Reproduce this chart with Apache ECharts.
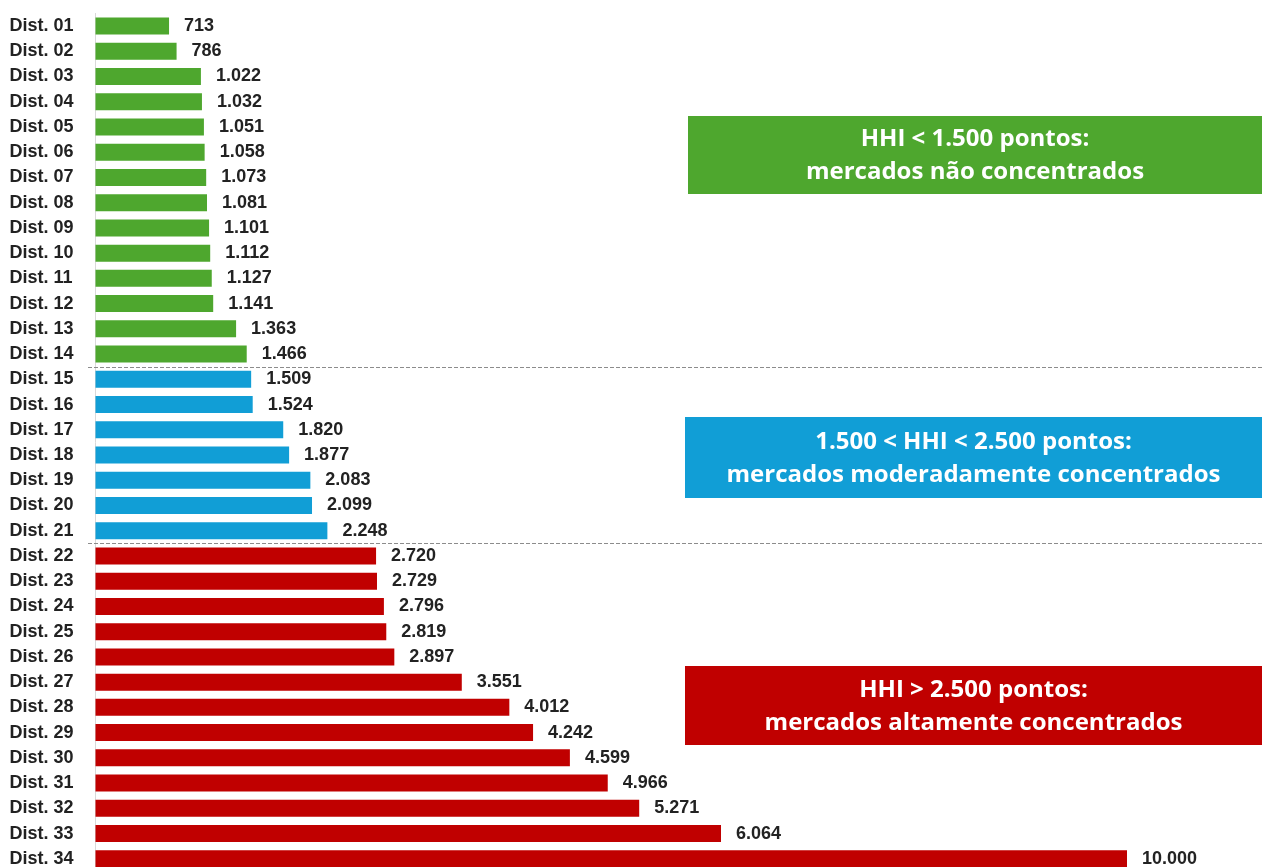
<!DOCTYPE html>
<html>
<head>
<meta charset="utf-8">
<script src="https://cdn.jsdelivr.net/npm/echarts@6/dist/echarts.min.js"></script>
<style>
  html, body { margin: 0; padding: 0; background: #ffffff; overflow: hidden; }
  /* the last row runs slightly past the bottom edge of the view */
  #chart { width: 1262px; height: 872px; }
</style>
</head>
<body>
<div id="chart"></div>
<script>
// HHI por distribuidora
const categories = [
  'Dist. 01', 'Dist. 02', 'Dist. 03', 'Dist. 04', 'Dist. 05', 'Dist. 06', 'Dist. 07',
  'Dist. 08', 'Dist. 09', 'Dist. 10', 'Dist. 11', 'Dist. 12', 'Dist. 13', 'Dist. 14',
  'Dist. 15', 'Dist. 16', 'Dist. 17', 'Dist. 18', 'Dist. 19', 'Dist. 20', 'Dist. 21',
  'Dist. 22', 'Dist. 23', 'Dist. 24', 'Dist. 25', 'Dist. 26', 'Dist. 27', 'Dist. 28',
  'Dist. 29', 'Dist. 30', 'Dist. 31', 'Dist. 32', 'Dist. 33', 'Dist. 34'
];
const hhiValues = [
  713, 786, 1022, 1032, 1051, 1058, 1073, 1081, 1101, 1112, 1127, 1141, 1363, 1466,
  1509, 1524, 1820, 1877, 2083, 2099, 2248,
  2720, 2729, 2796, 2819, 2897, 3551, 4012, 4242, 4599, 4966, 5271, 6064, 10000
];
// Faixas de concentração (limites em pontos HHI)
const bandLimits = [1500, 2500];
const bandColors = ['#4EA72E', '#119ED6', '#C00000'];
const bandTexts = [
  'HHI < 1.500 pontos:\nmercados não concentrados',
  '1.500 < HHI < 2.500 pontos:\nmercados moderadamente concentrados',
  'HHI > 2.500 pontos:\nmercados altamente concentrados'
];

function bandOf(v) {
  if (v < bandLimits[0]) return 0;
  if (v < bandLimits[1]) return 1;
  return 2;
}
function fmt(v) {
  return String(v).replace(/\B(?=(\d{3})+(?!\d))/g, '.');
}

const chart = echarts.init(document.getElementById('chart'), null, { renderer: 'canvas' });

const option = {
  backgroundColor: '#ffffff',
  animation: false,
  grid: { left: 95.5, right: 135, top: 13.4, height: 858, containLabel: false },
  xAxis: {
    type: 'value', min: 0, max: 10000,
    show: false
  },
  yAxis: {
    type: 'category',
    data: categories,
    inverse: true,
    axisLine: { show: true, lineStyle: { color: '#d9d9d9', width: 1 } },
    axisTick: { show: false },
    axisLabel: {
      align: 'left', margin: 86,
      fontFamily: 'Liberation Sans, Arial, sans-serif',
      fontWeight: 'bold', fontSize: 18, color: '#222222'
    }
  },
  series: [{
    type: 'bar',
    barWidth: 17,
    data: hhiValues.map(v => ({ value: v, itemStyle: { color: bandColors[bandOf(v)] } })),
    label: {
      show: true, position: 'right', distance: 15,
      formatter: p => fmt(p.value),
      fontFamily: 'Liberation Sans, Arial, sans-serif',
      fontWeight: 'bold', fontSize: 18, color: '#222222'
    }
  }]
};
chart.setOption(option);

// Separadores tracejados entre as faixas e caixas de legenda
const firstIdx = [0, 1, 2].map(b => hhiValues.findIndex(v => bandOf(v) === b));
const yMid = (i) => (chart.convertToPixel({ yAxisIndex: 0 }, categories[i - 1]) +
                     chart.convertToPixel({ yAxisIndex: 0 }, categories[i])) / 2;

const graphics = [];
[firstIdx[1], firstIdx[2]].forEach(i => {
  const y = Math.round(yMid(i)) + 0.5;
  graphics.push({
    type: 'line',
    shape: { x1: 88, y1: y, x2: 1262, y2: y },
    style: { stroke: '#8c8c8c', lineWidth: 1, lineDash: [4, 2] },
    z: 10
  });
});

const boxes = [
  { x: 688, y: 116, h: 78 },
  { x: 685, y: 417, h: 81 },
  { x: 685, y: 666, h: 79 }
];
boxes.forEach((b, k) => {
  graphics.push({
    type: 'rect',
    shape: { x: b.x, y: b.y, width: 1262 - b.x, height: b.h },
    style: { fill: bandColors[k] },
    z: 20
  });
  graphics.push({
    type: 'text',
    x: (b.x + 1262) / 2, y: b.y + b.h / 2 + 1,
    style: {
      text: bandTexts[k],
      fill: '#ffffff',
      font: 'bold 24px "Open Sans", Roboto, sans-serif',
      lineHeight: 33,
      align: 'center', verticalAlign: 'middle'
    },
    z: 21
  });
});
chart.setOption({ graphic: graphics });
</script>
</body>
</html>
